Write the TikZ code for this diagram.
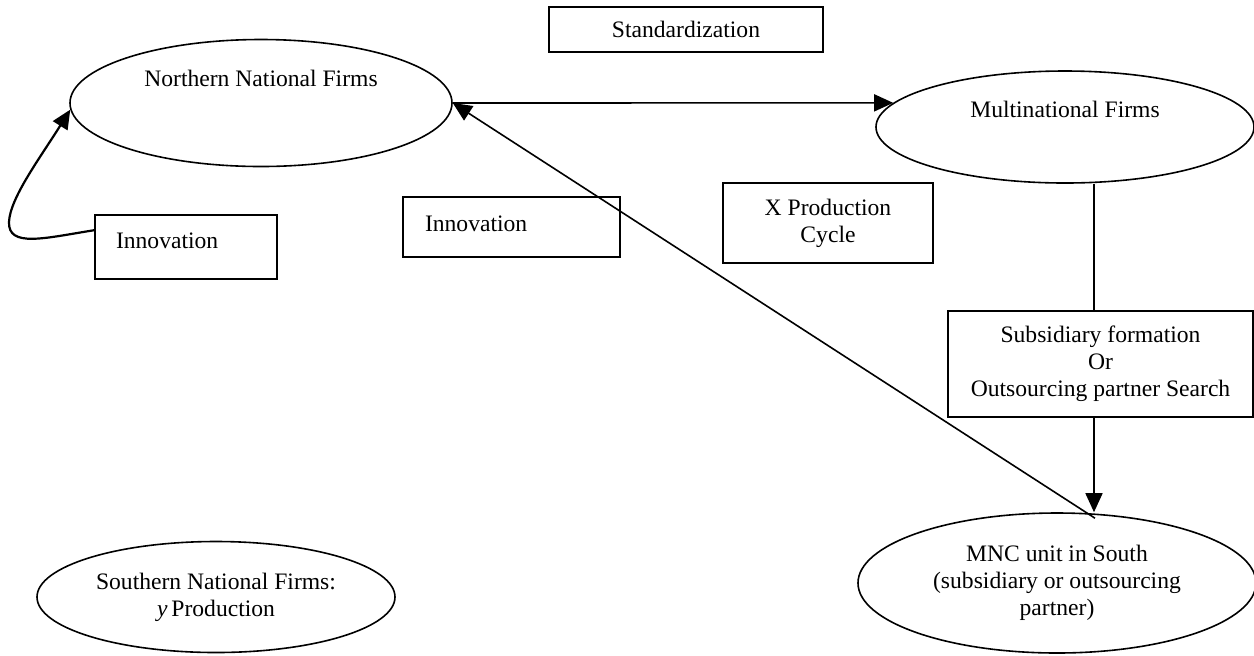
\documentclass[tikz,border=0pt]{standalone}
\usepackage{fontspec}
\setmainfont{Liberation Serif}
\usetikzlibrary{shapes.geometric,arrows.meta}

\begin{document}
\begin{tikzpicture}[x=0.5pt, y=-0.5pt, >={Triangle[length=9.5pt,width=8.5pt]},
    every node/.style={font=\fontsize{11.8}{13.4}\selectfont},
    firm/.style={draw, ellipse, line width=0.8pt, inner sep=0pt, align=center},
    stage/.style={draw, rectangle, line width=0.8pt, inner sep=0pt, align=center},
    link/.style={line width=0.8pt}]
    \useasboundingbox (0,0) rectangle (1254,655);
    % firms
    \node [firm, minimum width=191pt, minimum height=63.5pt] (nnf) at (261,103)
        {\raisebox{12.5pt}[\height][\depth]{Northern National Firms}};
    \node [firm, minimum width=189pt, minimum height=56pt] (mnf) at (1065,127)
        {\raisebox{9pt}[\height][\depth]{Multinational Firms}};
    \node [firm, minimum width=199pt, minimum height=70pt] (mnc) at (1057,583)
        {MNC unit in South\\(subsidiary or outsourcing\\partner)};
    \node [firm, minimum width=179pt, minimum height=55.5pt] (sth) at (216,597)
        {Southern National Firms:\\\textit{y}\,Production};
    % stages
    \node [stage, minimum width=137pt, minimum height=22.5pt] (std) at (686,29.5) {Standardization};
    \node [stage, minimum height=32pt, text width=70pt, inner xsep=10.5pt, align=left] (innovL) at (186,247)
        {\raisebox{3pt}[\height][\depth]{Innovation}};
    \node [stage, minimum height=30pt, text width=86.5pt, inner xsep=11pt, align=left] (innovM) at (511.5,227)
        {\raisebox{1.5pt}[\height][\depth]{Innovation}};
    \node [stage, minimum width=105pt, minimum height=40pt] (xpc) at (828,223) {X Production\\Cycle};
    \node [stage, minimum width=152.5pt, minimum height=53pt] (sub) at (1100.5,364)
        {Subsidiary formation\\Or\\Outsourcing partner Search};
    \coordinate (vx) at (1094,0);
    \coordinate (foot) at ([shift={(38,6)}]mnc.north);
    % links
    \draw [link, ->] (nnf.east) -- (mnf.172);
    \draw [link] (mnf.south -| vx) -- (sub.north -| vx);
    \draw [link, ->] (sub.south -| vx) -- (mnc.north -| vx);
    \draw [link, ->] (foot) -- (nnf.east);
    \draw [line width=1.1pt, ->] ([shift={(0,16)}]innovL.north west) .. controls (45,238) and (8,248) .. (9,222)
        .. controls (10,198) and (40,158) .. (nnf.182);
\end{tikzpicture}
\end{document}
